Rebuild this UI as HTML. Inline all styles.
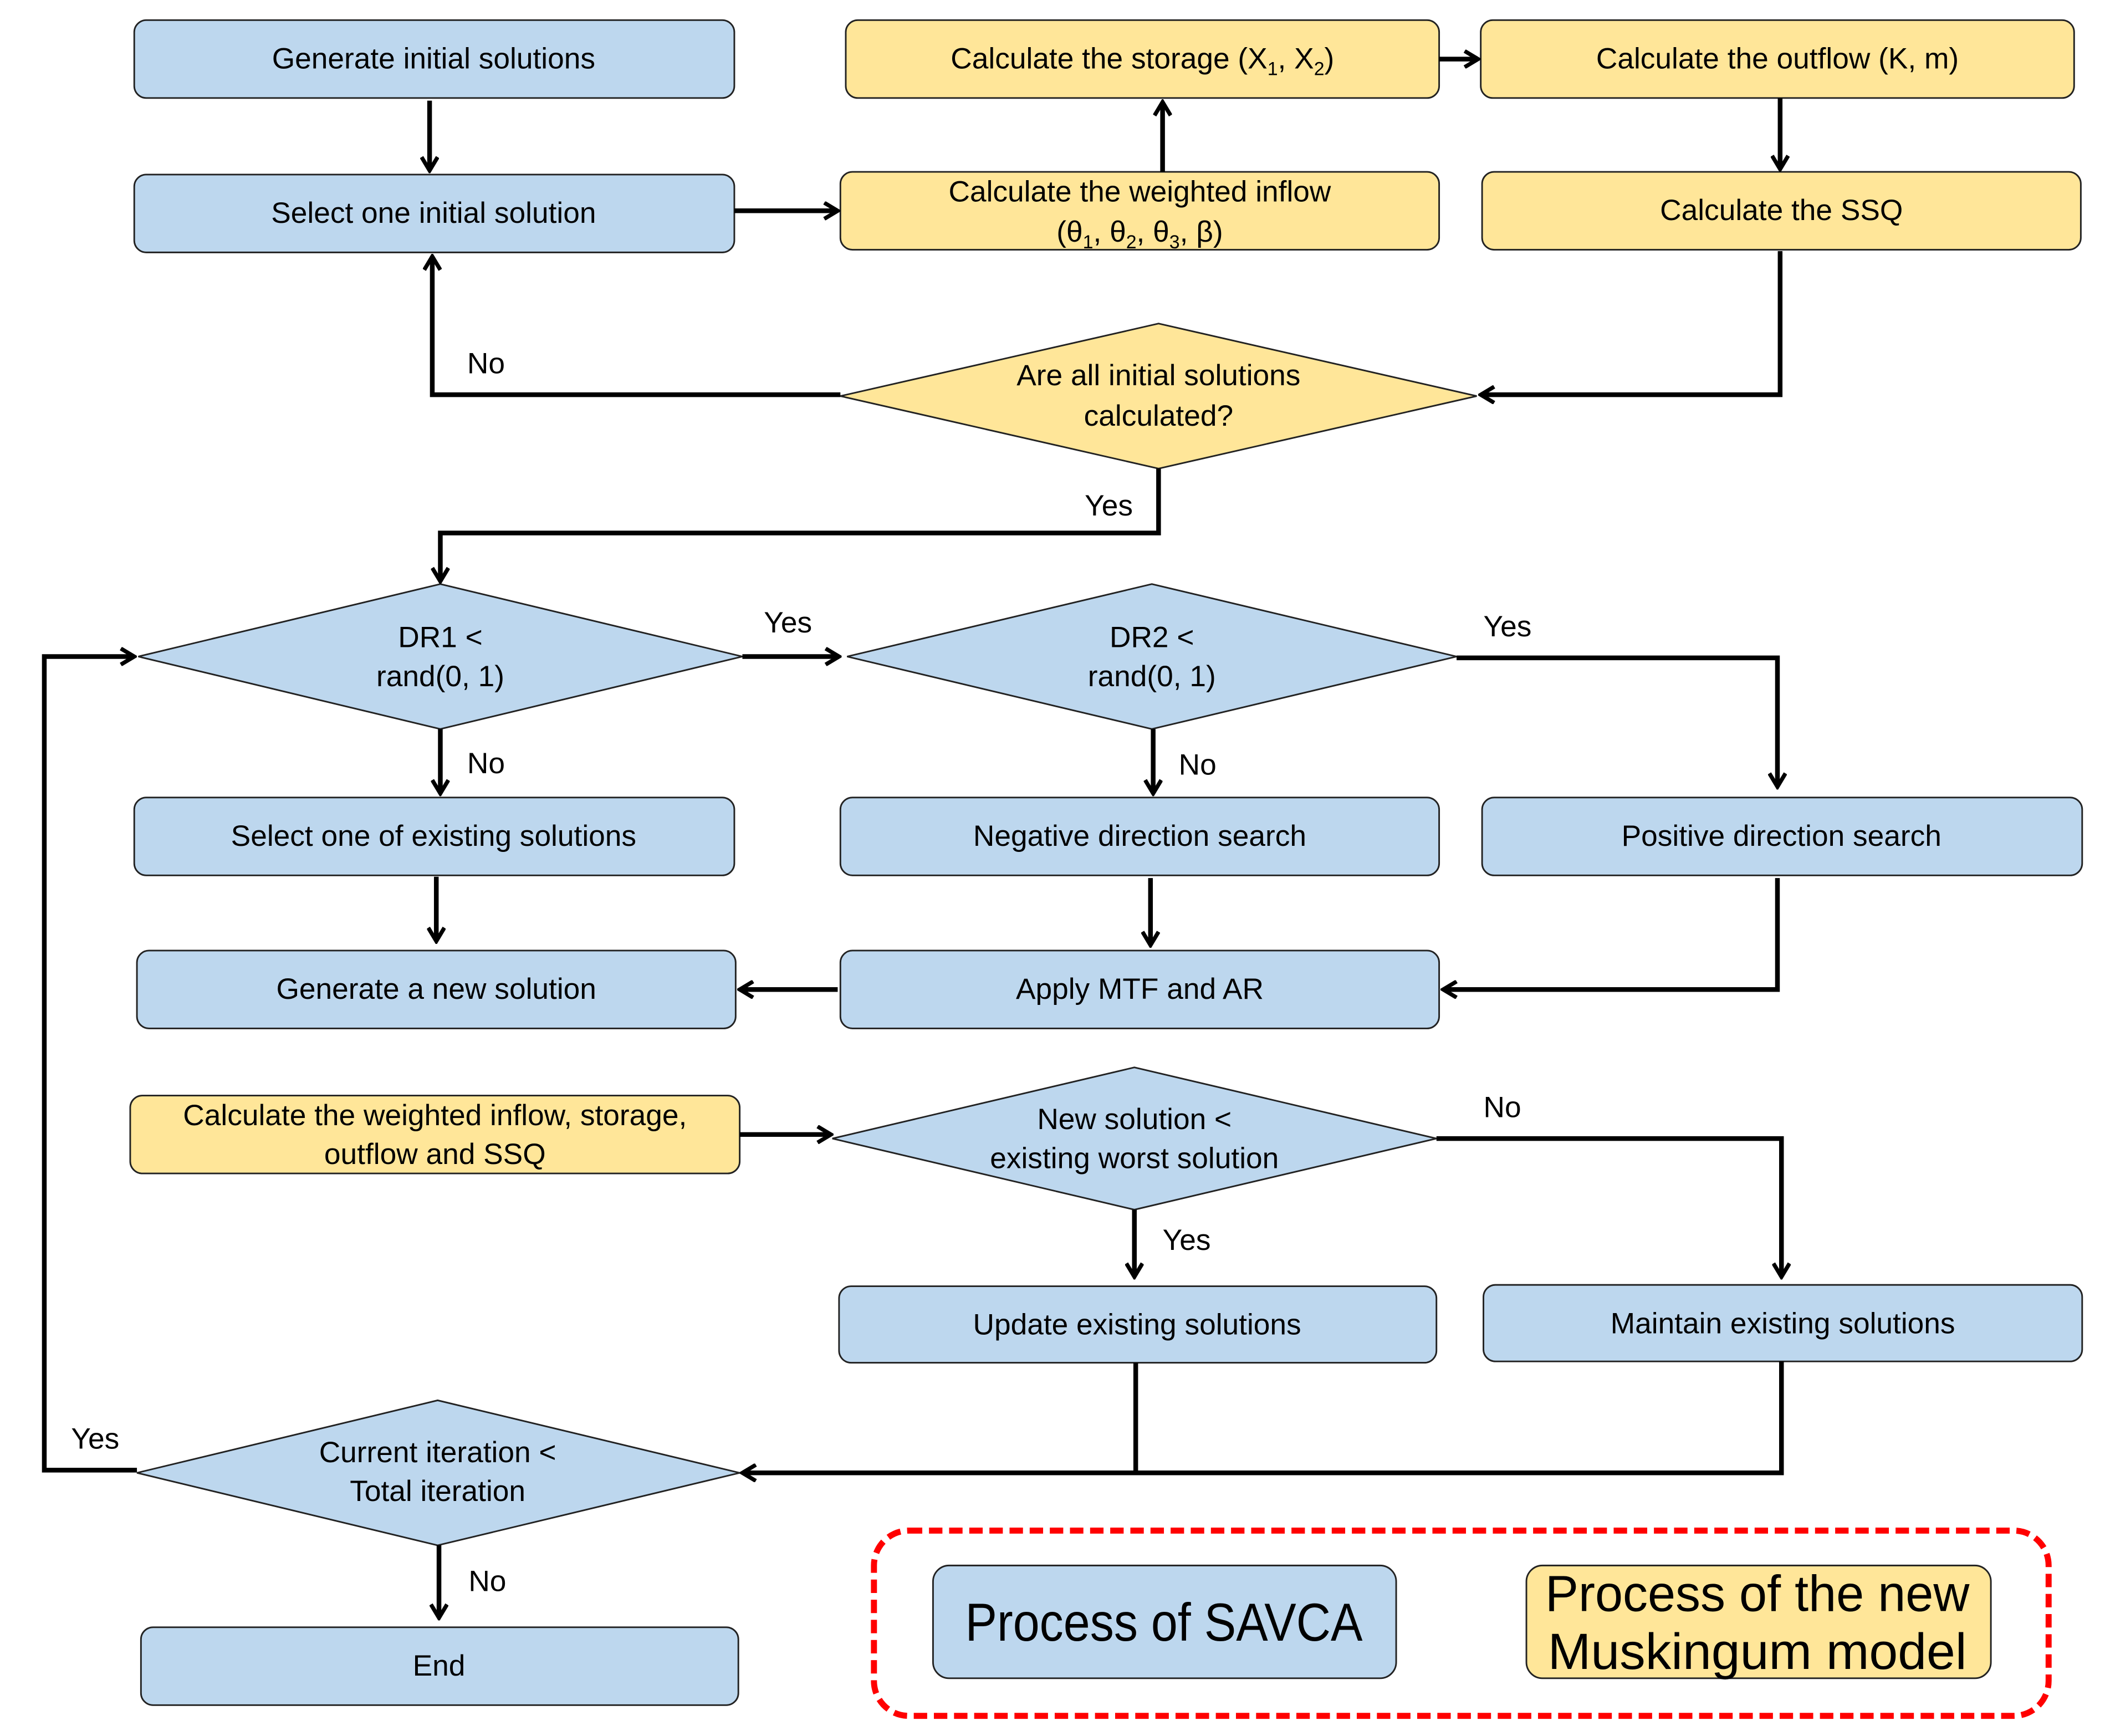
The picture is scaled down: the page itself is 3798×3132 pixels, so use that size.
<!DOCTYPE html>
<html><head><meta charset="utf-8"><style>
html,body{margin:0;padding:0;background:#fff}
svg{display:block}
text{font-family:"Liberation Sans",sans-serif;font-size:22px;fill:#000;text-anchor:middle}
.b{fill:#BDD7EE;stroke:#222;stroke-width:1.2}
.y{fill:#FFE699;stroke:#222;stroke-width:1.2}
.l{fill:none;stroke:#000;stroke-width:3.5}
.lab{text-anchor:start}
</style></head><body>
<svg width="3798" height="3132" viewBox="0 0 1568 1293" preserveAspectRatio="none" xmlns="http://www.w3.org/2000/svg">
<defs><marker id="a" viewBox="0 0 14 14" refX="12" refY="7" markerWidth="14" markerHeight="14" markerUnits="userSpaceOnUse" orient="auto"><path d="M2,1 L12,7 L2,13" fill="none" stroke="#000" stroke-width="3"/></marker></defs>

<rect class="b" x="100" y="15" width="447" height="58" rx="9"/><text x="323" y="51">Generate initial solutions</text>
<rect class="b" x="100" y="130" width="447" height="58" rx="9"/><text x="323" y="166">Select one initial solution</text>
<rect class="y" x="630" y="15" width="442" height="58" rx="9"/><text x="851" y="51">Calculate the storage (X<tspan font-size="14" dy="5">1</tspan><tspan dy="-5">, X</tspan><tspan font-size="14" dy="5">2</tspan><tspan dy="-5">)</tspan></text>
<rect class="y" x="1103" y="15" width="442" height="58" rx="9"/><text x="1324" y="51">Calculate the outflow (K, m)</text>
<rect class="y" x="626" y="128" width="446" height="58" rx="9"/><text x="849" y="150">Calculate the weighted inflow</text><text x="849" y="180">(θ<tspan font-size="14" dy="5">1</tspan><tspan dy="-5">, θ</tspan><tspan font-size="14" dy="5">2</tspan><tspan dy="-5">, θ</tspan><tspan font-size="14" dy="5">3</tspan><tspan dy="-5">, β)</tspan></text>
<rect class="y" x="1104" y="128" width="446" height="58" rx="9"/><text x="1327" y="164">Calculate the SSQ</text>

<polygon class="y" points="626,295 863,241 1100,295 863,349"/><text x="863" y="287">Are all initial solutions</text><text x="863" y="317">calculated?</text>

<polygon class="b" points="103,489 328,435 553,489 328,543"/><text x="328" y="482">DR1 &lt;</text><text x="328" y="511">rand(0, 1)</text>
<polygon class="b" points="631,489 858,435 1085,489 858,543"/><text x="858" y="482">DR2 &lt;</text><text x="858" y="511">rand(0, 1)</text>

<rect class="b" x="100" y="594" width="447" height="58" rx="9"/><text x="323" y="630">Select one of existing solutions</text>
<rect class="b" x="626" y="594" width="446" height="58" rx="9"/><text x="849" y="630">Negative direction search</text>
<rect class="b" x="1104" y="594" width="447" height="58" rx="9"/><text x="1327" y="630">Positive direction search</text>
<rect class="b" x="102" y="708" width="446" height="58" rx="9"/><text x="325" y="744">Generate a new solution</text>
<rect class="b" x="626" y="708" width="446" height="58" rx="9"/><text x="849" y="744">Apply MTF and AR</text>

<rect class="y" x="97" y="816" width="454" height="58" rx="9"/><text x="324" y="838">Calculate the weighted inflow, storage,</text><text x="324" y="867">outflow and SSQ</text>
<polygon class="b" points="620,848 845,795 1070,848 845,901"/><text x="845" y="841">New solution &lt;</text><text x="845" y="870">existing worst solution</text>

<rect class="b" x="625" y="958" width="445" height="57" rx="9"/><text x="847" y="994">Update existing solutions</text>
<rect class="b" x="1105" y="957" width="446" height="57" rx="9"/><text x="1328" y="993">Maintain existing solutions</text>

<polygon class="b" points="102,1097 326,1043 551,1097 326,1151"/><text x="326" y="1089">Current iteration &lt;</text><text x="326" y="1118">Total iteration</text>
<rect class="b" x="105" y="1212" width="445" height="58" rx="9"/><text x="327" y="1248">End</text>

<path class="l" d="M320,75 V127" marker-end="url(#a)"/>
<path class="l" d="M547,157 H624" marker-end="url(#a)"/>
<path class="l" d="M866,128 V76" marker-end="url(#a)"/>
<path class="l" d="M1072,44 H1101" marker-end="url(#a)"/>
<path class="l" d="M1326,73 V126" marker-end="url(#a)"/>
<path class="l" d="M1326,187 V294 H1103" marker-end="url(#a)"/>
<path class="l" d="M626,294 H322 V191" marker-end="url(#a)"/>
<path class="l" d="M863,349 V397 H328 V433" marker-end="url(#a)"/>
<path class="l" d="M553,489 H625" marker-end="url(#a)"/>
<path class="l" d="M1085,490 H1324 V586" marker-end="url(#a)"/>
<path class="l" d="M328,543 V591" marker-end="url(#a)"/>
<path class="l" d="M859,543 V591" marker-end="url(#a)"/>
<path class="l" d="M325,653 V701" marker-end="url(#a)"/>
<path class="l" d="M857,654 V704" marker-end="url(#a)"/>
<path class="l" d="M1324,654 V737 H1075" marker-end="url(#a)"/>
<path class="l" d="M624,737 H551" marker-end="url(#a)"/>
<path class="l" d="M551,845 H619" marker-end="url(#a)"/>
<path class="l" d="M1070,848 H1327 V951" marker-end="url(#a)"/>
<path class="l" d="M845,901 V951" marker-end="url(#a)"/>
<path class="l" d="M846,1015 V1097"/>
<path class="l" d="M1327,1014 V1097 H553" marker-end="url(#a)"/>
<path class="l" d="M102,1095 H33 V489 H100" marker-end="url(#a)"/>
<path class="l" d="M327,1151 V1205" marker-end="url(#a)"/>

<text class="lab" x="348" y="278">No</text>
<text class="lab" x="808" y="384">Yes</text>
<text class="lab" x="569" y="471">Yes</text>
<text class="lab" x="1105" y="474">Yes</text>
<text class="lab" x="348" y="576">No</text>
<text class="lab" x="878" y="577">No</text>
<text class="lab" x="1105" y="832">No</text>
<text class="lab" x="866" y="931">Yes</text>
<text class="lab" x="53" y="1079">Yes</text>
<text class="lab" x="349" y="1185">No</text>

<rect x="651" y="1140" width="875" height="138" rx="26" fill="none" stroke="#f00" stroke-width="4.5" stroke-dasharray="10,5"/>
<rect class="b" x="695" y="1166" width="345" height="84" rx="12"/>
<text x="867" y="1222" style="font-size:40px" textLength="296" lengthAdjust="spacingAndGlyphs">Process of SAVCA</text>
<rect class="y" x="1137" y="1166" width="346" height="84" rx="12"/>
<text x="1309" y="1200" style="font-size:38px" textLength="316" lengthAdjust="spacingAndGlyphs">Process of the new</text>
<text x="1309" y="1243" style="font-size:38px" textLength="312" lengthAdjust="spacingAndGlyphs">Muskingum model</text>
</svg>
</body></html>
